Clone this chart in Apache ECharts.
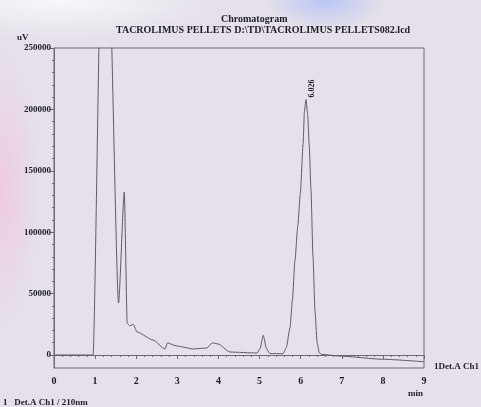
<!DOCTYPE html>
<html>
<head>
<meta charset="utf-8">
<script src="https://cdn.jsdelivr.net/npm/echarts@6/dist/echarts.min.js"></script>
<style>
  html, body { margin: 0; padding: 0; }
  body {
    width: 481px; height: 407px; overflow: hidden;
    background:
      radial-gradient(ellipse 40px 140px at 0px 190px, rgba(240, 200, 225, 0.9), rgba(240, 200, 225, 0)),
      radial-gradient(ellipse 60px 30px at 325px 0px, rgba(180, 195, 245, 0.9), rgba(180, 195, 245, 0)),
      radial-gradient(ellipse 160px 40px at 60px 0px, rgba(250, 250, 252, 0.9), rgba(250, 250, 252, 0)),
      #e5e0ea;
  }
  #chart { width: 481px; height: 407px; }
</style>
</head>
<body>
<div id="chart"></div>
<script>
// retention time (min) and detector signal (uV)
const time = [0, 0.95, 1.15, 1.33, 1.57, 1.71, 1.78, 1.84, 1.93, 2.02, 2.41, 2.70, 2.76, 2.99, 3.39, 3.72,
  3.85, 3.99, 4.28, 4.94, 5.01, 5.09, 5.17, 5.25, 5.57, 5.65, 5.74, 5.80, 5.86, 5.93, 5.99, 6.06, 6.09, 6.13,
  6.17, 6.21, 6.25, 6.30, 6.35, 6.40, 6.45, 6.50, 7, 8, 9]
const signal = [0, 0, 330000, 330000, 42300, 132700, 26000, 23800, 24800, 18700, 12200, 4900, 9800, 7300, 4900, 5700,
  9800, 9000, 2400, 1600, 5000, 16000, 5000, 1200, 1000, 6000, 22000, 45000, 76500, 105000, 131000, 172000, 198000, 208000,
  196000, 170000, 135000, 80000, 35000, 10000, 2000, 500, -1000, -3500, -5500]
const peakTime = 6.13
const peakLabel = '6.026'

const serif = 'Liberation Serif'
const ink = '#1e1e22'
const lineGrey = '#5c5c62'
const axisGrey = '#6a6a70'

const points = time.map((t, i) => {
  if (t === peakTime) {
    return {
      value: [t, signal[i]],
      label: {
        show: true, formatter: peakLabel, rotate: 90, position: 'top', distance: 3,
        align: 'left', verticalAlign: 'middle', offset: [-1, 6],
        fontFamily: serif, fontWeight: 'bold', fontSize: 8, color: ink
      }
    }
  }
  return [t, signal[i]]
})

const myChart = echarts.init(document.getElementById('chart'))
const option = {
  animation: false,
  backgroundColor: 'transparent',
  grid: [
    // plot frame, y runs a little below zero so the baseline sits above the time axis
    { left: 54, right: 57, top: 48, bottom: 39, show: true, borderColor: axisGrey, borderWidth: 1 },
    // 0..250000 band, only used for the uV ticks and labels
    { left: 54, right: 57, top: 48, bottom: 52 }
  ],
  graphic: [
    { type: 'text', left: 221, top: 14, style: { text: 'Chromatogram', font: 'bold 10px "Liberation Serif"', fill: ink } },
    { type: 'text', left: 116, top: 25, style: { text: 'TACROLIMUS PELLETS D:\\TD\\TACROLIMUS PELLETS082.lcd', font: 'bold 10px "Liberation Serif"', fill: ink } },
    { type: 'text', left: 17, top: 33, style: { text: 'uV', font: 'bold 9px "Liberation Serif"', fill: ink } },
    { type: 'text', left: 408, top: 389, style: { text: 'min', font: 'bold 9px "Liberation Serif"', fill: ink } },
    { type: 'text', left: 3, top: 398, style: { text: '1   Det.A Ch1 / 210nm', font: 'bold 9px "Liberation Serif"', fill: ink } }
  ],
  xAxis: [
    {
      gridIndex: 0, type: 'value', min: 0, max: 9, interval: 1,
      axisLine: { lineStyle: { color: axisGrey } },
      axisTick: { length: 4, lineStyle: { color: axisGrey } },
      minorTick: { show: true, splitNumber: 5, length: 2, lineStyle: { color: axisGrey } },
      splitLine: { show: false },
      axisLabel: { margin: 8, fontFamily: serif, fontWeight: 'bold', fontSize: 10, color: ink }
    },
    { gridIndex: 1, type: 'value', min: 0, max: 9, show: false }
  ],
  yAxis: [
    {
      gridIndex: 0, type: 'value', min: -10600, max: 250000,
      axisLine: { show: true, lineStyle: { color: axisGrey } },
      axisTick: { show: false },
      axisLabel: { show: false },
      splitLine: { show: false }
    },
    {
      gridIndex: 1, type: 'value', min: 0, max: 250000, interval: 50000,
      axisLine: { show: false },
      axisTick: { show: true, length: 4, lineStyle: { color: axisGrey } },
      minorTick: { show: true, splitNumber: 5, length: 2, lineStyle: { color: axisGrey } },
      splitLine: { show: false },
      axisLabel: {
        margin: 3, formatter: v => String(v),
        fontFamily: serif, fontWeight: 'bold', fontSize: 9, color: ink
      }
    }
  ],
  series: [
    {
      type: 'line',
      xAxisIndex: 0, yAxisIndex: 0,
      data: points,
      smooth: 0.2, smoothMonotone: 'x',
      symbol: 'circle', symbolSize: 0, showAllSymbol: true,
      lineStyle: { color: lineGrey, width: 1 },
      itemStyle: { color: lineGrey },
      clip: true,
      endLabel: {
        show: true, formatter: '1Det.A Ch1', distance: 10, offset: [0, 5],
        fontFamily: serif, fontWeight: 'bold', fontSize: 9, color: ink
      }
    }
  ]
}
myChart.setOption(option)
</script>
</body>
</html>
